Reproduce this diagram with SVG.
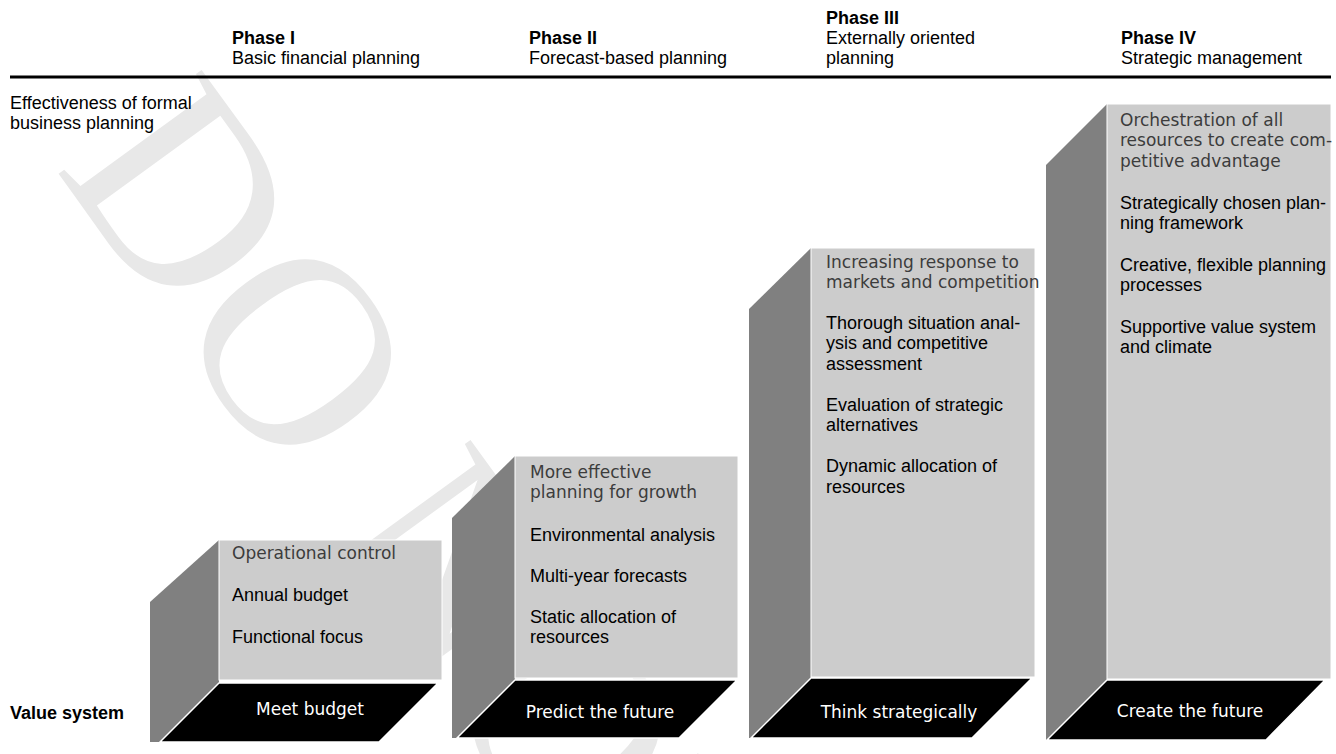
<svg xmlns="http://www.w3.org/2000/svg" width="1336" height="754" viewBox="0 0 1336 754">
<style>
.t{font-family:"Liberation Sans",Arial,sans-serif;font-size:18px;fill:#000}
.b{font-weight:bold}
.h{font-family:"DejaVu Sans","Liberation Sans",sans-serif;font-size:17px;fill:#3c3c3c}
.fl{font-family:"DejaVu Sans","Liberation Sans",sans-serif;font-size:17px;fill:#fff;text-anchor:middle}
.side{fill:#808080}
.front{fill:#cccccc;stroke:#fff;stroke-width:1}
.floor{fill:#000;stroke:#fff;stroke-width:1.5;stroke-linejoin:miter}
.wm{font-family:"Liberation Serif","Times New Roman",serif;font-size:270px;fill:#e8e8e8}
</style>
<rect width="1336" height="754" fill="#fff"/>
<text class="wm" transform="translate(54,167.5) rotate(54)">DO NOT COPY</text>

<g id="header">
<text class="t"><tspan class="b" x="232" y="43.5">Phase I</tspan><tspan x="232" y="63.5">Basic financial planning</tspan></text>
<text class="t"><tspan class="b" x="529" y="43.5">Phase II</tspan><tspan x="529" y="63.5">Forecast-based planning</tspan></text>
<text class="t"><tspan class="b" x="826" y="23.5">Phase III</tspan><tspan x="826" y="43.5">Externally oriented</tspan><tspan x="826" y="63.5">planning</tspan></text>
<text class="t"><tspan class="b" x="1121" y="43.5">Phase IV</tspan><tspan x="1121" y="63.5">Strategic management</tspan></text>
<line x1="10" y1="77" x2="1331" y2="77" stroke="#000" stroke-width="3"/>
<text class="t"><tspan x="10" y="108.5">Effectiveness of formal</tspan><tspan x="10" y="128.5">business planning</tspan></text>
<text class="t b" x="10" y="719">Value system</text>
</g>

<g id="phase1">
<polygon class="side" points="150,602 219,540 219,742 150,742"/>
<rect class="front" x="219" y="540" width="223" height="140"/>
<polygon class="floor" points="219,683 438,683 379,742 160,742"/>
<text class="h" x="232" y="559">Operational control</text>
<text class="t" x="232" y="601">Annual budget</text>
<text class="t" x="232" y="642.5">Functional focus</text>
<text class="fl" x="310" y="715">Meet budget</text>
</g>

<g id="phase2">
<polygon class="side" points="452,518 515,456 515,738 452,738"/>
<rect class="front" x="515" y="456" width="223" height="222"/>
<polygon class="floor" points="515,680 737,680 679,738 457,738"/>
<text class="h"><tspan x="530" y="477.5">More effective</tspan><tspan x="530" y="497.5">planning for growth</tspan></text>
<text class="t" x="530" y="540.5">Environmental analysis</text>
<text class="t" x="530" y="581.5">Multi-year forecasts</text>
<text class="t"><tspan x="530" y="622.5">Static allocation of</tspan><tspan x="530" y="643">resources</tspan></text>
<text class="fl" x="600" y="718">Predict the future</text>
</g>

<g id="phase3">
<polygon class="side" points="749,309 811,248 811,738 749,738"/>
<rect class="front" x="811" y="248" width="224" height="429"/>
<polygon class="floor" points="811,678 1032,678 972,738 751,738"/>
<text class="h"><tspan x="826" y="267.5">Increasing response to</tspan><tspan x="826" y="288">markets and competition</tspan></text>
<text class="t"><tspan x="826" y="328.5">Thorough situation anal-</tspan><tspan x="826" y="349">ysis and competitive</tspan><tspan x="826" y="369.5">assessment</tspan></text>
<text class="t"><tspan x="826" y="410.5">Evaluation of strategic</tspan><tspan x="826" y="431">alternatives</tspan></text>
<text class="t"><tspan x="826" y="472">Dynamic allocation of</tspan><tspan x="826" y="492.5">resources</tspan></text>
<text class="fl" x="899" y="718">Think strategically</text>
</g>

<g id="phase4">
<polygon class="side" points="1046,165 1107,104 1107,740 1046,740"/>
<rect class="front" x="1107" y="104" width="224" height="575"/>
<polygon class="floor" points="1107,680 1325,680 1266,740 1047,740"/>
<text class="h"><tspan x="1120" y="125.5">Orchestration of all</tspan><tspan x="1120" y="146">resources to create com-</tspan><tspan x="1120" y="166.5">petitive advantage</tspan></text>
<text class="t"><tspan x="1120" y="208.5">Strategically chosen plan-</tspan><tspan x="1120" y="229">ning framework</tspan></text>
<text class="t"><tspan x="1120" y="270.5">Creative, flexible planning</tspan><tspan x="1120" y="291">processes</tspan></text>
<text class="t"><tspan x="1120" y="332.5">Supportive value system</tspan><tspan x="1120" y="353">and climate</tspan></text>
<text class="fl" x="1190" y="717">Create the future</text>
</g>

<g id="connectors"></g>
</svg>
